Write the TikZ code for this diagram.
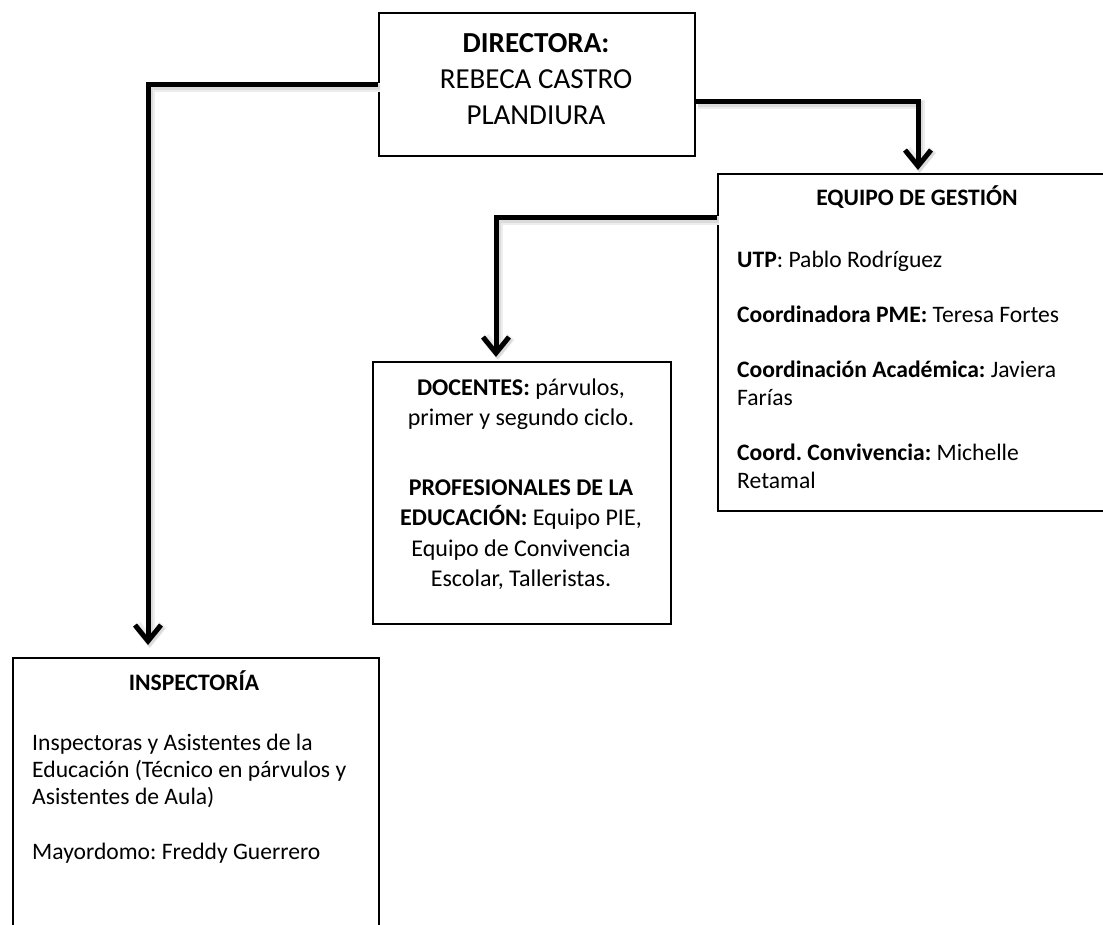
\documentclass[tikz,border=0pt]{standalone}
\usepackage{fontspec}
\setmainfont{Carlito}
\usetikzlibrary{arrows.meta}
\frenchspacing
\begin{document}
\begin{tikzpicture}[x=1pt,y=-1pt,
  box/.style={draw=black, line width=2pt, inner sep=0pt, anchor=north west},
  conn/.style={line width=5pt, line join=miter, -{Straight Barb[length=16pt,width=26pt]},
    preaction={draw=black!7, line width=9pt, transform canvas={xshift=2pt,yshift=-3pt}},
    preaction={draw=black!14, line width=6pt, transform canvas={xshift=1.5pt,yshift=-2.5pt}}},
  txt/.style={inner sep=0pt},
  bigfont/.style={font=\fontsize{29}{36}\selectfont},
  bodyfont/.style={font=\fontsize{23.6}{28}\selectfont}]
\useasboundingbox (0,0) rectangle (1103,924);
% boxes
\node[box, minimum width=316pt, minimum height=143pt] (dir) at (378,12) {};
\node[box, minimum width=400pt, minimum height=337pt] (eq) at (717,173) {};
\node[box, minimum width=298pt, minimum height=262pt] (doc) at (372,361) {};
\node[box, minimum width=366pt, minimum height=290pt] (insp) at (12,657) {};
% texts
\node[txt, bigfont, anchor=base] (dirtxt) at (536,52)
  {\begin{tabular}[t]{@{}c@{}}\textbf{DIRECTORA:}\\ REBECA CASTRO\\ PLANDIURA\end{tabular}};
\node[txt, bodyfont, anchor=base] (eqtitle) at (917,205) {\textbf{EQUIPO DE GESTIÓN}};
\node[txt, bodyfont, anchor=base west] (eqtxt) at (737,267)
  {\begin{tabular}[t]{@{}l@{}}\textbf{UTP}: Pablo Rodríguez\\[27pt]
  \textbf{Coordinadora PME:} Teresa Fortes\\[27pt]
  \textbf{Coordinación Académica:} Javiera\\
  Farías\\[27pt]
  \textbf{Coord. Convivencia:} Michelle\\
  Retamal\end{tabular}};
\node[txt, font=\fontsize{24}{30.5}\selectfont, anchor=base] (doctxt) at (521,395)
  {\begin{tabular}[t]{@{}c@{}}\textbf{DOCENTES:} párvulos,\\ primer y segundo ciclo.\\[39pt]
  \textbf{PROFESIONALES DE LA}\\ \textbf{EDUCACIÓN:} Equipo PIE,\\ Equipo de Convivencia\\ Escolar, Talleristas.\end{tabular}};
\node[txt, bodyfont, anchor=base] (insptitle) at (194,690) {\textbf{INSPECTORÍA}};
\node[txt, font=\fontsize{23.6}{27}\selectfont, anchor=base west] (insptxt) at (32,750)
  {\begin{tabular}[t]{@{}l@{}}Inspectoras y Asistentes de la\\
  Educación (Técnico en párvulos y\\
  Asistentes de Aula)\\[28pt]
  Mayordomo: Freddy Guerrero\end{tabular}};
% connectors
\draw[conn, shorten >=12pt] (dir.west) -| ([xshift=-48pt]insp.north);
\draw[conn, shorten >=3pt] ([yshift=-16.5pt]dir.east) -| (eq.north);
\draw[conn, shorten >=4pt] ([yshift=-44pt]eq.north west) -| ([xshift=-26pt]doc.north);
\end{tikzpicture}
\end{document}
